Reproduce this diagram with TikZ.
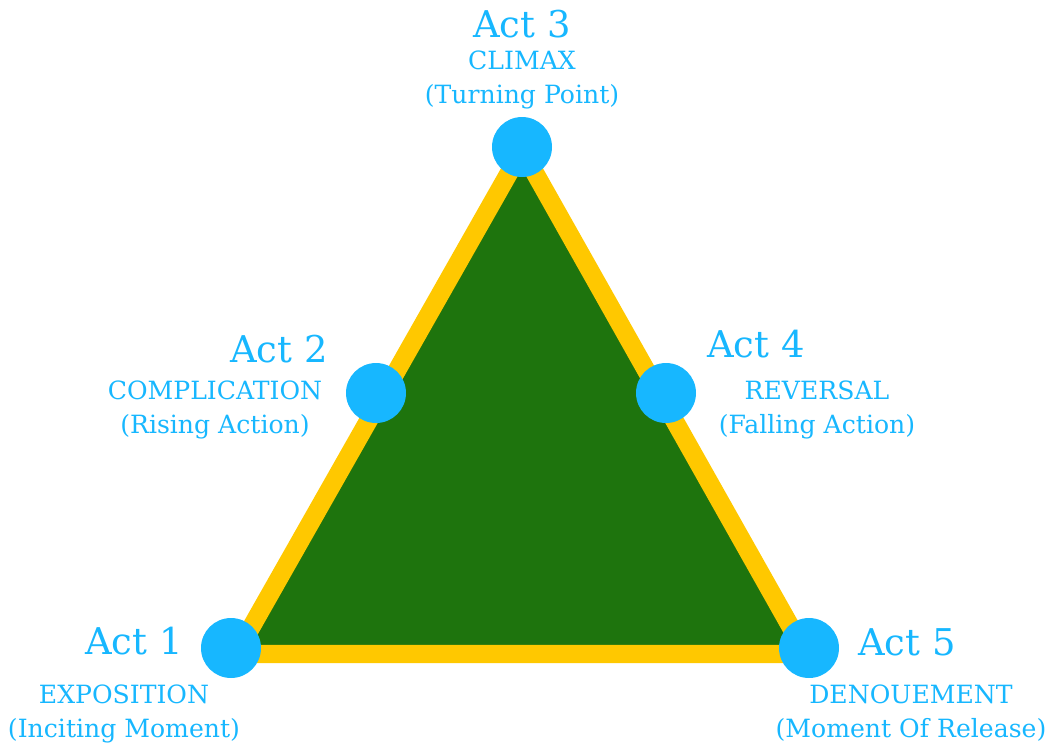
\documentclass[tikz,border=0pt]{standalone}
\usepackage{fontspec}
\setmainfont{DejaVu Serif}
\usepackage{tikz}
\definecolor{ActBlue}{HTML}{17B7FF}
\definecolor{PlotGreen}{HTML}{1E740D}
\definecolor{EdgeYellow}{HTML}{FFC800}
\tikzset{
  actdot/.style={circle, fill=ActBlue, minimum size=1.2cm, inner sep=0pt},
  acttitle/.style={text=ActBlue, anchor=base, inner sep=0pt, font=\fontsize{21}{25}\selectfont},
  actnote/.style={text=ActBlue, anchor=base, inner sep=0pt, align=center, font=\fontsize{14.3}{19.3}\selectfont}
}
\begin{document}
\begin{tikzpicture}[x=0.02cm, y=-0.02cm]
  \useasboundingbox (0,0) rectangle (1048,748);
  % triangle corners
  \coordinate (t1) at (236,654);
  \coordinate (t3) at (522,150);
  \coordinate (t5) at (806,654);
  \filldraw[fill=PlotGreen, draw=EdgeYellow, line width=10.5pt, line join=round]
    (t1) -- (t3) -- (t5) -- cycle;
  % act markers
  \node[actdot] (a1) at (231,648) {};
  \node[actdot] (a2) at (376,393) {};
  \node[actdot] (a3) at (522,147) {};
  \node[actdot] (a4) at (666,393) {};
  \node[actdot] (a5) at (809,648) {};
  % labels
  \node[acttitle] (l3) at (522,37) {Act 3};
  \node[actnote] (n3) at (522,103) {CLIMAX\\(Turning Point)};
  \node[acttitle] (l2) at (279,362) {Act 2};
  \node[actnote] (n2) at (215,433) {COMPLICATION\\(Rising Action)};
  \node[acttitle] (l4) at (756,357) {Act 4};
  \node[actnote] (n4) at (817,433) {REVERSAL\\(Falling Action)};
  \node[acttitle] (l1) at (134,654) {Act 1};
  \node[actnote] (n1) at (124,737) {EXPOSITION\\(Inciting Moment)};
  \node[acttitle] (l5) at (907,655) {Act 5};
  \node[actnote] (n5) at (911,737) {DENOUEMENT\\(Moment Of Release)};
\end{tikzpicture}
\end{document}
